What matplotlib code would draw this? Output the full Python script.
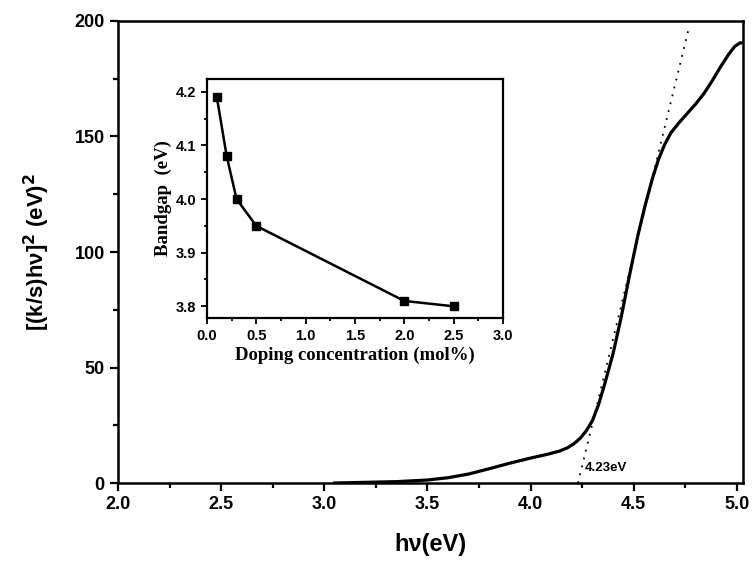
import matplotlib
matplotlib.use("Agg")
import matplotlib.pyplot as plt
from matplotlib.ticker import MultipleLocator

# main absorption curve
hv = [3.05, 3.2, 3.35, 3.5, 3.6, 3.7, 3.8, 3.9, 4.0, 4.08, 4.14, 4.18, 4.21,
      4.24, 4.27, 4.30, 4.33, 4.36, 4.40, 4.44, 4.48, 4.52, 4.555, 4.59,
      4.62, 4.65, 4.68, 4.72, 4.76, 4.80, 4.84, 4.88, 4.92, 4.96, 4.99,
      5.015, 5.03]
alpha_hv2 = [0, 0.3, 0.6, 1.3, 2.3, 3.9, 6.2, 8.6, 10.8, 12.4, 13.8, 15.3, 17,
             19.3, 22.6, 27, 34, 43, 56, 72, 90, 107, 120, 131.5,
             140, 146.5, 151.5, 156, 160, 164, 168.5, 174, 180, 185.5, 189,
             190.5, 190.5]

# tangent line used for the extrapolation
tangent_x = [4.23, 4.765]
tangent_y = [0, 196]

# inset: band gap vs doping
doping = [0.1, 0.2, 0.3, 0.5, 2.0, 2.5]
bandgap = [4.19, 4.08, 4.00, 3.95, 3.81, 3.80]

sans = 'Liberation Sans'
serif = 'Liberation Serif'

fig = plt.figure(figsize=(7.54, 5.67), dpi=100)
ax = fig.add_axes([0.1565, 0.1481, 0.8289, 0.8149])

ax.plot(hv, alpha_hv2, color='black', lw=2.3, solid_joinstyle='round')
ax.plot(tangent_x, tangent_y, color='black', lw=1.3, ls=(0, (1, 3.5)))
ax.text(4.265, 6.5, '4.23eV', fontsize=9.5, family=sans, fontweight='bold',
        va='center', ha='left')

ax.set_xlim(2.0, 5.03)
ax.set_ylim(0, 200)
ax.xaxis.set_major_locator(MultipleLocator(0.5))
ax.xaxis.set_minor_locator(MultipleLocator(0.25))
ax.yaxis.set_major_locator(MultipleLocator(50))
ax.yaxis.set_minor_locator(MultipleLocator(25))
ax.tick_params(which='both', direction='out', width=1.6)
ax.tick_params(which='major', length=6)
ax.tick_params(which='minor', length=3.5)
for lab in ax.get_xticklabels() + ax.get_yticklabels():
    lab.set_family(sans)
    lab.set_fontweight('bold')
    lab.set_fontsize(13)
for sp in ax.spines.values():
    sp.set_linewidth(1.8)

ax.set_xlabel('h\u03bd(eV)', family=sans, fontweight='bold', fontsize=17,
              labelpad=14)
ax.set_ylabel('[(k/s)h\u03bd]$^\\mathbf{2}$ (eV)$^\\mathbf{2}$', family=sans,
              fontweight='bold', fontsize=16, labelpad=16)

# inset
ins = fig.add_axes([0.2745, 0.439, 0.3925, 0.4217])
ins.plot(doping, bandgap, color='black', lw=1.8, marker='s', ms=6)
ins.set_xlim(0, 3.0)
ins.set_ylim(3.778, 4.224)
ins.xaxis.set_major_locator(MultipleLocator(0.5))
ins.xaxis.set_minor_locator(MultipleLocator(0.25))
ins.yaxis.set_major_locator(MultipleLocator(0.1))
ins.yaxis.set_minor_locator(MultipleLocator(0.05))
ins.tick_params(which='both', direction='out', width=1.3)
ins.tick_params(which='major', length=4)
ins.tick_params(which='minor', length=2.5)
for lab in ins.get_xticklabels() + ins.get_yticklabels():
    lab.set_family(sans)
    lab.set_fontweight('bold')
    lab.set_fontsize(10.5)
for sp in ins.spines.values():
    sp.set_linewidth(1.6)
ins.set_xlabel('Doping concentration (mol%)', family=serif, fontweight='bold',
               fontsize=13.5, labelpad=3)
ins.set_ylabel('Bandgap  (eV)', family=serif, fontweight='bold',
               fontsize=13.5, labelpad=3)

fig.savefig('out.png', dpi=100)
